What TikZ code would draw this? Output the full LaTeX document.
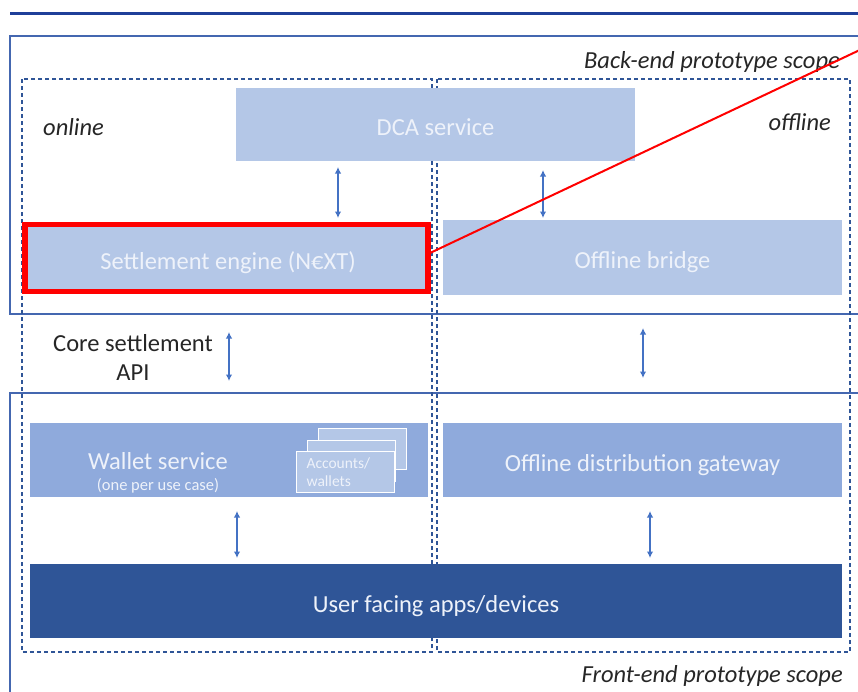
\documentclass[tikz,border=0pt]{standalone}
\usepackage{fontspec}
\setmainfont{Carlito}
\usetikzlibrary{arrows.meta}

\definecolor{lightbox}{HTML}{B4C7E7}
\definecolor{midbox}{HTML}{8FAADC}
\definecolor{darkbox}{HTML}{2F5597}
\definecolor{framecol}{HTML}{4467B0}
\definecolor{dashcol}{HTML}{2F5597}
\definecolor{rulecol}{HTML}{1F3F99}
\definecolor{arrowcol}{HTML}{4472C4}
\definecolor{labelcol}{HTML}{262626}
\definecolor{softwhite}{HTML}{EEF2FA}

\tikzset{
  block/.style={anchor=north west, inner sep=0pt, outer sep=0pt, draw=none,
    font=\fontsize{24.5}{29}\selectfont, text=softwhite,
    text height=22.5pt, text depth=0pt},
  card/.style={anchor=north west, inner sep=0pt, fill=lightbox, draw=white,
    line width=1.2pt, minimum width=88pt, minimum height=41pt},
  scopeframe/.style={draw=framecol, line width=1.3pt},
  zone/.style={draw=dashcol, line width=1.3pt, dash pattern=on 4pt off 3pt},
  link/.style={draw=arrowcol, line width=1.7pt,
    {Latex[length=6.5pt,width=6.5pt]}-{Latex[length=6.5pt,width=6.5pt]}},
  tag/.style={font=\fontsize{24.5}{29}\selectfont\itshape, text=labelcol, inner sep=0pt},
  plain/.style={font=\fontsize{24.5}{29}\selectfont, text=labelcol, inner sep=0pt}
}

\begin{document}
\begin{tikzpicture}[x=1pt,y=-1pt]
  \useasboundingbox (0,0) rectangle (858,691);
  \clip (0,0) rectangle (858,691);

  % header rule
  \draw[rulecol, line width=3pt] (10,13) -- (870,13);

  % prototype scope frames
  \draw[scopeframe] (10,36) rectangle (880,314);
  \draw[scopeframe] (10,393) rectangle (880,720);
  \node[tag, anchor=base east] (backlbl) at (840,68) {Back-end prototype scope};
  \node[tag, anchor=base east] (frontlbl) at (843,682) {Front-end prototype scope};

  % online / offline zones
  \draw[zone] (22,79) rectangle (432,652);
  \draw[zone] (437,79) rectangle (850,652);
  \node[tag, anchor=west] (onlinelbl) at (43,127) {online};
  \node[tag, anchor=east] (offlinelbl) at (831,122) {offline};

  % back-end components
  \node[block, fill=lightbox, minimum width=399pt, minimum height=73pt] (dca) at (236,88) {DCA service};
  \node[block, fill=lightbox, minimum width=400pt, minimum height=68pt] (settle) at (28,224) {Settlement engine (N€XT)};
  \node[block, fill=lightbox, minimum width=399pt, minimum height=75pt] (bridge) at (443,220) {Offline bridge};

  % front-end components
  \node[block, fill=midbox, minimum width=398pt, minimum height=74pt] (wallet) at (30,423) {};
  \node[font=\fontsize{24.5}{29}\selectfont, text=softwhite, inner sep=0pt] (wallettxt) at (158,461) {Wallet service};
  \node[font=\fontsize{16.5}{20}\selectfont, text=softwhite, inner sep=0pt] (walletsub) at (158,486) {(one per use case)};
  \node[block, fill=midbox, minimum width=399pt, minimum height=74pt] (gateway) at (443,423) {Offline distribution gateway};
  \node[block, fill=darkbox, minimum width=812pt, minimum height=74pt] (apps) at (30,564) {User facing apps/devices};

  % stacked account cards
  \node[card] (cardc) at (318,428) {};
  \node[card] (cardb) at (307,440) {};
  \node[card, align=left, font=\fontsize{15.5}{17.5}\selectfont, text=softwhite,
        text width=78pt, inner xsep=10pt] (carda) at (296,451) {Accounts/\\wallets};

  % interfaces
  \node[plain, align=center] (api) at (133,357) {Core settlement\\API};

  \coordinate (xa) at (338,0);
  \coordinate (xb) at (543,0);
  \coordinate (xc) at (229,0);
  \coordinate (xd) at (643,0);
  \coordinate (xe) at (237,0);
  \coordinate (xf) at (650,0);

  \draw[link, shorten <=6pt, shorten >=6pt] (dca.south -| xa) -- (settle.north -| xa);
  \draw[link, shorten <=9pt, shorten >=2pt] (dca.south -| xb) -- (bridge.north -| xb);
  \draw[link, shorten <=40pt, shorten >=42pt] (settle.south -| xc) -- (wallet.north -| xc);
  \draw[link, shorten <=33pt, shorten >=45pt] (bridge.south -| xd) -- (gateway.north -| xd);
  \draw[link, shorten <=14pt, shorten >=6pt] (wallet.south -| xe) -- (apps.north -| xe);
  \draw[link, shorten <=14pt, shorten >=6pt] (gateway.south -| xf) -- (apps.north -| xf);

  % highlight of the settlement engine
  \draw[red, line width=5.5pt] (25,224.5) rectangle (428,291.5);
  \coordinate (callout) at (900,31);
  \draw[red, line width=2pt] (settle.east) ++(2,-5) -- (callout);
\end{tikzpicture}
\end{document}
